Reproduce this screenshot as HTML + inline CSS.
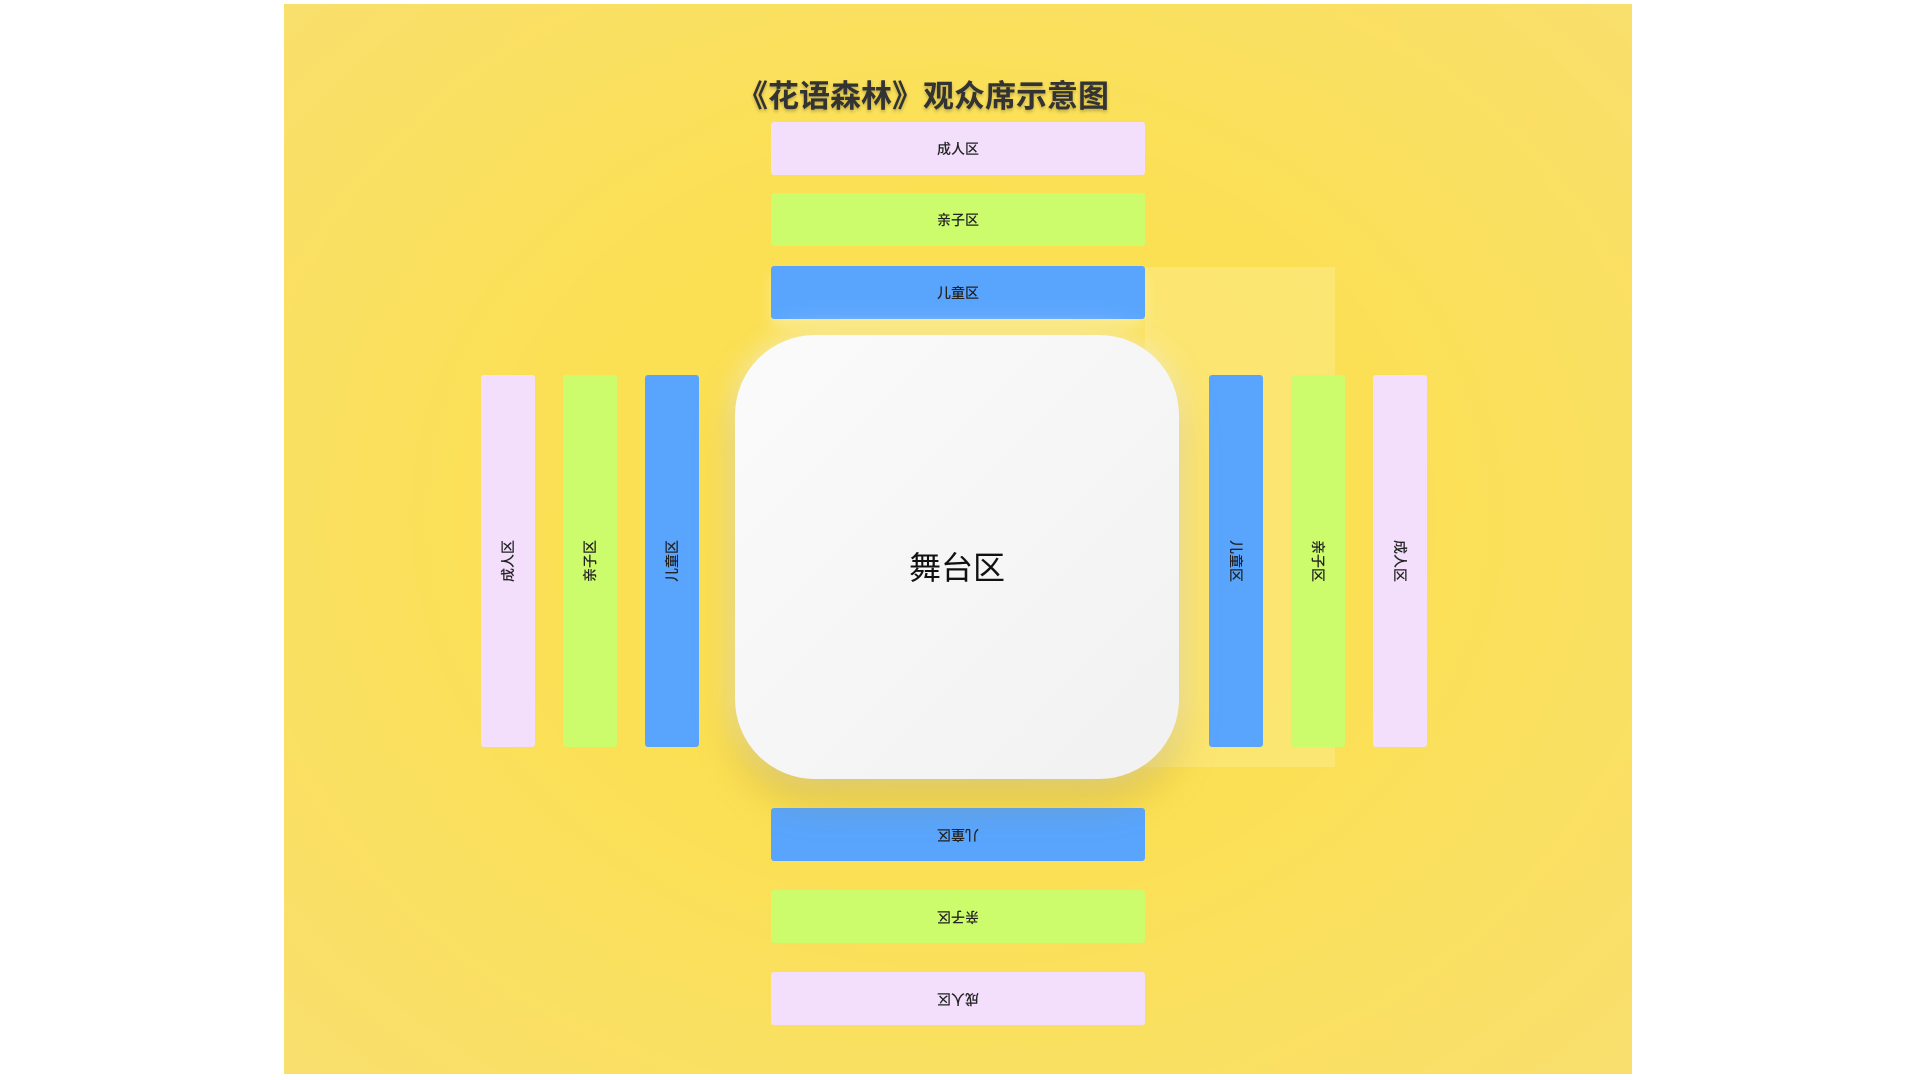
<!DOCTYPE html>
<html><head><meta charset="utf-8"><style>
body{margin:0;width:1920px;height:1080px;background:#fff;position:relative;overflow:hidden;font-family:"Liberation Sans","Noto Sans CJK SC",sans-serif}
#bg{position:absolute;left:284px;top:4px;width:1348px;height:1070px;background:radial-gradient(ellipse at 50% 48%,#fce04e 0%,#fbe055 45%,#f9df6e 100%)}
.f{position:absolute;left:1145px;top:267px;width:190px;height:500px;background:rgba(255,240,170,0.35)}
.b{position:absolute;display:flex;align-items:center;justify-content:center;font-size:14px;color:#222;border-radius:3px;font-weight:500}
.p{background:#f3dffc}.g{background:#ccfc6c}.u{background:#59a5fe}
.h{left:771px;width:374px;height:53px}
.v{top:375px;height:372px;width:54px}
.v span{white-space:nowrap}
.l span{transform:rotate(-90deg)}
.r span{transform:rotate(90deg)}
.d span{transform:rotate(180deg)}
#stage{position:absolute;left:735px;top:335px;width:444px;height:444px;border-radius:80px;background:linear-gradient(135deg,#fbfbfb,#f1f1f1);box-shadow:0 20px 40px rgba(160,130,30,0.35),0 0 30px rgba(255,255,230,0.8);display:flex;align-items:center;justify-content:center;font-size:32px;color:#111}
#stage span{position:relative;top:9px}
#t{position:absolute;left:-37px;width:1920px;top:71px;text-align:center;font-size:31px;font-weight:bold;color:#333;text-shadow:0 2px 3px rgba(0,0,0,0.25)}
</style></head><body>
<div id="bg"></div><div class="f"></div>
<div id="t">《花语森林》观众席示意图</div>
<div class="b h p" style="top:122px"><span>成人区</span></div>
<div class="b h g" style="top:193px"><span>亲子区</span></div>
<div class="b h u" style="top:266px;box-shadow:0 8px 12px rgba(255,255,255,0.3)"><span>儿童区</span></div>
<div class="b v l p" style="left:481px"><span>成人区</span></div>
<div class="b v l g" style="left:563px"><span>亲子区</span></div>
<div class="b v l u" style="left:645px"><span>儿童区</span></div>
<div class="b v r u" style="left:1209px"><span>儿童区</span></div>
<div class="b v r g" style="left:1291px"><span>亲子区</span></div>
<div class="b v r p" style="left:1373px"><span>成人区</span></div>
<div class="b h d u" style="top:808px"><span>儿童区</span></div>
<div class="b h d g" style="top:890px"><span>亲子区</span></div>
<div class="b h d p" style="top:972px"><span>成人区</span></div>
<div id="stage"><span>舞台区</span></div>
</body></html>
